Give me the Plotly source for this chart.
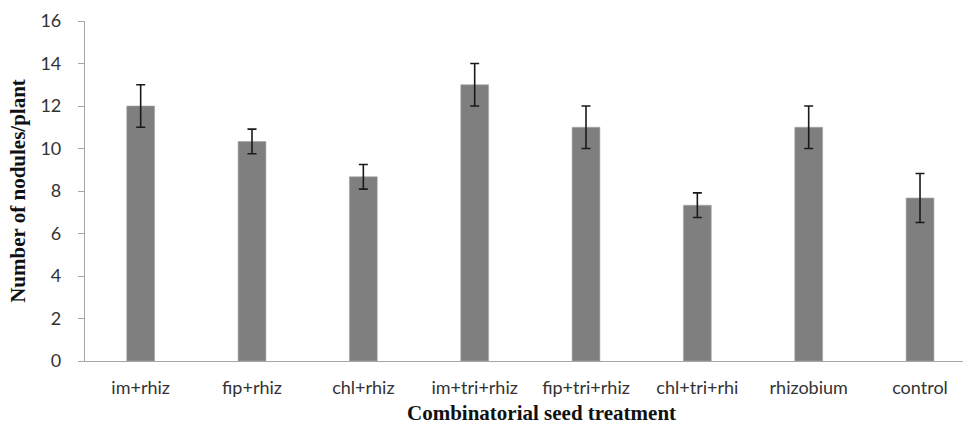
import plotly.graph_objects as go

# Mean number of nodules per plant for each seed treatment, with error bar half-widths
treatments = ["im+rhiz", "fip+rhiz", "chl+rhiz", "im+tri+rhiz",
              "fip+tri+rhiz", "chl+tri+rhi", "rhizobium", "control"]
nodules = [12.0, 10.33, 8.67, 13.0, 11.0, 7.33, 11.0, 7.67]
errors = [1.0, 0.58, 0.58, 1.0, 1.0, 0.58, 1.0, 1.15]
y_ticks = [0, 2, 4, 6, 8, 10, 12, 14, 16]

fig = go.Figure(
    go.Bar(
        x=list(range(len(treatments))),
        y=nodules,
        width=0.25,
        marker=dict(color="#7f7f7f", line=dict(color="#a6a6a6", width=0.6)),
        error_y=dict(type="data", array=errors, visible=True,
                     color="#1a1a1a", thickness=1.6, width=4.5),
    )
)

fig.update_layout(
    width=963, height=427,
    margin=dict(l=85, r=0, t=21, b=66),
    plot_bgcolor="white", paper_bgcolor="white",
    showlegend=False,
    font=dict(family="Lato, 'Open Sans', sans-serif", size=18, color="#333333"),
    xaxis=dict(
        tickmode="array",
        tickvals=list(range(len(treatments))),
        ticktext=treatments,
        range=[-0.5, 7.386],
        showline=True, linecolor="#a6a6a6", linewidth=1.2,
        ticks="", showgrid=False, zeroline=False,
        ticklabelstandoff=10,
    ),
    yaxis=dict(
        range=[0, 16],
        tickvals=y_ticks,
        showline=True, linecolor="#a6a6a6", linewidth=1.2,
        ticks="outside", ticklen=6, tickcolor="#a6a6a6",
        showgrid=False, zeroline=False,
        ticklabelstandoff=13,
        title=dict(text="<b>Number of nodules/plant</b>",
                   font=dict(family="'Liberation Serif', 'Times New Roman', serif",
                             size=21, color="#111111"),
                   standoff=9),
    ),
)

fig.add_annotation(
    text="<b>Combinatorial seed treatment</b>",
    xref="paper", yref="paper", x=0.52, y=0, yshift=-52,
    xanchor="center", yanchor="middle", showarrow=False,
    font=dict(family="'Liberation Serif', 'Times New Roman', serif",
              size=21, color="#111111"),
)

fig.write_html("out.html")
